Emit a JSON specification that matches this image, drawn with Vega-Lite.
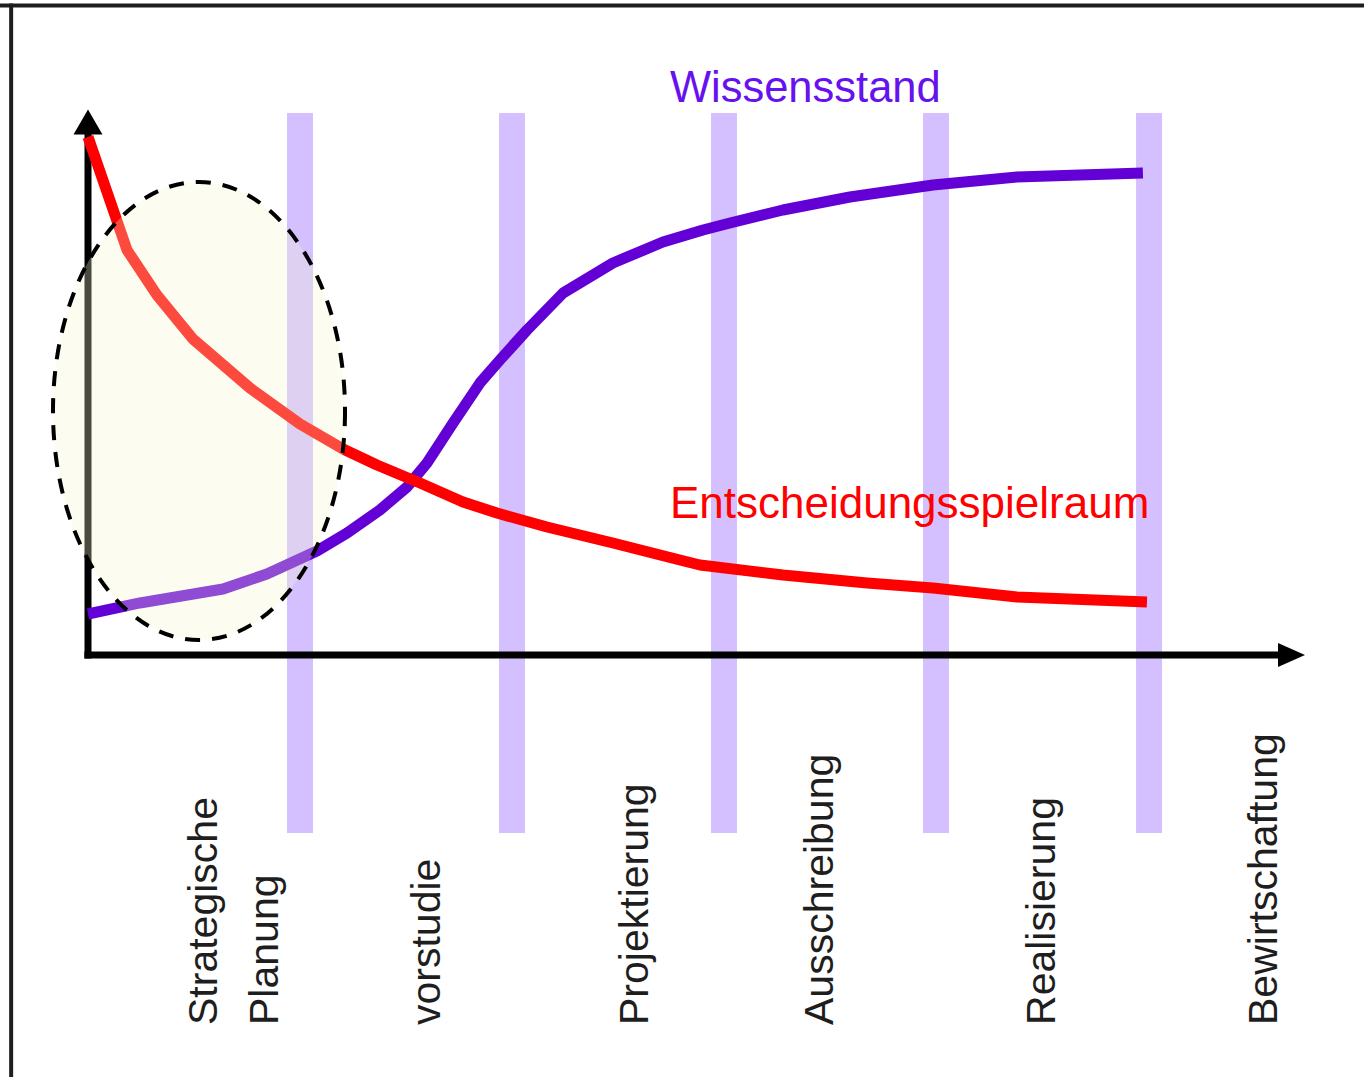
{
  "$schema": "https://vega.github.io/schema/vega-lite/v6.json",
  "width": 1364,
  "height": 1077,
  "padding": 0,
  "autosize": "none",
  "background": "white",
  "config": {"view": {"stroke": null}},
  "data": {"values": [{}]},
  "datasets": {
    "bands": [{"x": 1}, {"x": 2}, {"x": 3}, {"x": 4}, {"x": 5.005}],
    "wissen": [
      {"x": 0, "y": 7.96}, {"x": 0.245, "y": 10.1}, {"x": 0.637, "y": 12.82}, {"x": 0.844, "y": 15.73},
      {"x": 1.08, "y": 20.19}, {"x": 1.222, "y": 23.69}, {"x": 1.377, "y": 28.16}, {"x": 1.505, "y": 32.62},
      {"x": 1.599, "y": 37.28}, {"x": 1.722, "y": 45.05}, {"x": 1.849, "y": 52.82}, {"x": 1.943, "y": 57.28},
      {"x": 2.071, "y": 63.11}, {"x": 2.241, "y": 70.29}, {"x": 2.476, "y": 76.12}, {"x": 2.712, "y": 80.19},
      {"x": 2.901, "y": 82.52}, {"x": 3.028, "y": 83.88}, {"x": 3.278, "y": 86.41}, {"x": 3.594, "y": 88.93},
      {"x": 3.986, "y": 91.26}, {"x": 4.382, "y": 92.82}, {"x": 4.976, "y": 93.59}
    ],
    "entscheid": [
      {"x": 0, "y": 100.6}, {"x": 0.184, "y": 78.64}, {"x": 0.325, "y": 69.9}, {"x": 0.495, "y": 61.36},
      {"x": 0.764, "y": 51.84}, {"x": 1.0, "y": 44.85}, {"x": 1.203, "y": 40.0}, {"x": 1.363, "y": 36.89},
      {"x": 1.566, "y": 33.4}, {"x": 1.769, "y": 29.71}, {"x": 1.929, "y": 27.57}, {"x": 2.165, "y": 24.85},
      {"x": 2.476, "y": 21.75}, {"x": 2.792, "y": 18.45}, {"x": 2.887, "y": 17.48}, {"x": 3.278, "y": 15.53},
      {"x": 3.675, "y": 13.98}, {"x": 3.986, "y": 13.01}, {"x": 4.382, "y": 11.26}, {"x": 4.995, "y": 10.29}
    ],
    "phases": [
      {"label": "Strategische", "x": 0.608, "y": -71.84},
      {"label": "Planung", "x": 0.896, "y": -71.84},
      {"label": "vorstudie", "x": 1.66, "y": -71.84},
      {"label": "Projektierung", "x": 2.642, "y": -71.84},
      {"label": "Ausschreibung", "x": 3.514, "y": -71.84},
      {"label": "Realisierung", "x": 4.561, "y": -71.84},
      {"label": "Bewirtschaftung", "x": 5.608, "y": -71.84}
    ]
  },
  "layer": [
    {
      "mark": {"type": "rule", "stroke": "#1e1e1e", "strokeWidth": 4},
      "encoding": {
        "x": {"datum": -0.415, "type": "quantitative", "scale": {"domain": [-0.41509, 6.01887], "nice": false, "zero": false}, "axis": null},
        "x2": {"datum": 6.02},
        "y": {"datum": 126.1, "type": "quantitative", "scale": {"domain": [-81.942, 127.184], "nice": false, "zero": false}, "axis": null}
      }
    },
    {
      "mark": {"type": "rule", "stroke": "#1e1e1e", "strokeWidth": 4},
      "encoding": {
        "x": {"datum": -0.3625, "type": "quantitative", "scale": {"domain": [-0.41509, 6.01887], "nice": false, "zero": false}, "axis": null},
        "y": {"datum": 126.5, "type": "quantitative", "scale": {"domain": [-81.942, 127.184], "nice": false, "zero": false}, "axis": null},
        "y2": {"datum": -82}
      }
    },
    {
      "data": {"name": "bands"},
      "mark": {"type": "rule", "stroke": "#d4bfff", "strokeWidth": 26, "strokeCap": "butt"},
      "encoding": {
        "x": {"field": "x", "type": "quantitative", "scale": {"domain": [-0.41509, 6.01887], "nice": false, "zero": false}, "axis": null},
        "y": {"datum": 105.24, "type": "quantitative", "scale": {"domain": [-81.942, 127.184], "nice": false, "zero": false}, "axis": null},
        "y2": {"datum": -34.56}
      }
    },
    {
      "mark": {"type": "rule", "stroke": "black", "strokeWidth": 7, "strokeCap": "butt"},
      "encoding": {
        "x": {"datum": 0, "type": "quantitative", "scale": {"domain": [-0.41509, 6.01887], "nice": false, "zero": false}, "axis": null},
        "y": {"datum": -0.68, "type": "quantitative", "scale": {"domain": [-81.942, 127.184], "nice": false, "zero": false}, "axis": null},
        "y2": {"datum": 101.4}
      }
    },
    {
      "mark": {"type": "rule", "stroke": "black", "strokeWidth": 7, "strokeCap": "butt"},
      "encoding": {
        "x": {"datum": -0.017, "type": "quantitative", "scale": {"domain": [-0.41509, 6.01887], "nice": false, "zero": false}, "axis": null},
        "x2": {"datum": 5.623},
        "y": {"datum": 0, "type": "quantitative", "scale": {"domain": [-81.942, 127.184], "nice": false, "zero": false}, "axis": null}
      }
    },
    {
      "mark": {"type": "point", "shape": "M0,-0.86L1,0.86L-1,0.86Z", "size": 841, "filled": true, "fill": "black", "stroke": null, "opacity": 1},
      "encoding": {
        "x": {"datum": 0, "type": "quantitative", "scale": {"domain": [-0.41509, 6.01887], "nice": false, "zero": false}, "axis": null},
        "y": {"datum": 103.5, "type": "quantitative", "scale": {"domain": [-81.942, 127.184], "nice": false, "zero": false}, "axis": null}
      }
    },
    {
      "mark": {"type": "point", "shape": "M-1,-0.89L1,0L-1,0.89Z", "size": 729, "filled": true, "fill": "black", "stroke": null, "opacity": 1},
      "encoding": {
        "x": {"datum": 5.677, "type": "quantitative", "scale": {"domain": [-0.41509, 6.01887], "nice": false, "zero": false}, "axis": null},
        "y": {"datum": 0, "type": "quantitative", "scale": {"domain": [-81.942, 127.184], "nice": false, "zero": false}, "axis": null}
      }
    },
    {
      "data": {"name": "wissen"},
      "mark": {"type": "line", "stroke": "#6300d6", "strokeWidth": 11, "strokeCap": "butt", "strokeJoin": "round"},
      "encoding": {
        "x": {"field": "x", "type": "quantitative", "scale": {"domain": [-0.41509, 6.01887], "nice": false, "zero": false}, "axis": null},
        "y": {"field": "y", "type": "quantitative", "scale": {"domain": [-81.942, 127.184], "nice": false, "zero": false}, "axis": null}
      }
    },
    {
      "data": {"name": "entscheid"},
      "mark": {"type": "line", "stroke": "#ff0000", "strokeWidth": 11, "strokeCap": "butt", "strokeJoin": "round"},
      "encoding": {
        "x": {"field": "x", "type": "quantitative", "scale": {"domain": [-0.41509, 6.01887], "nice": false, "zero": false}, "axis": null},
        "y": {"field": "y", "type": "quantitative", "scale": {"domain": [-81.942, 127.184], "nice": false, "zero": false}, "axis": null}
      }
    },
    {
      "mark": {
        "type": "point",
        "shape": "M0.6376,0C0.6376,0.5523,0.3521,1,0,1C-0.3521,1,-0.6376,0.5523,-0.6376,0C-0.6376,-0.5523,-0.3521,-1,0,-1C0.3521,-1,0.6376,-0.5523,0.6376,0Z",
        "size": 209764,
        "filled": true,
        "fill": "#f5facd",
        "fillOpacity": 0.3,
        "stroke": "black",
        "strokeWidth": 4,
        "strokeOpacity": 1,
        "strokeDash": [15, 12],
        "opacity": 1
      },
      "encoding": {
        "x": {"datum": 0.5236, "type": "quantitative", "scale": {"domain": [-0.41509, 6.01887], "nice": false, "zero": false}, "axis": null},
        "y": {"datum": 47.38, "type": "quantitative", "scale": {"domain": [-81.942, 127.184], "nice": false, "zero": false}, "axis": null}
      }
    },
    {
      "mark": {"type": "text", "text": "Wissensstand", "font": "Liberation Sans", "fontSize": 43.5, "fill": "#6611ee", "align": "left", "baseline": "alphabetic"},
      "encoding": {
        "x": {"datum": 2.745, "type": "quantitative", "scale": {"domain": [-0.41509, 6.01887], "nice": false, "zero": false}, "axis": null},
        "y": {"datum": 107.4, "type": "quantitative", "scale": {"domain": [-81.942, 127.184], "nice": false, "zero": false}, "axis": null}
      }
    },
    {
      "mark": {"type": "text", "text": "Entscheidungsspielraum", "font": "Liberation Sans", "fontSize": 44, "fill": "#ff0000", "align": "left", "baseline": "alphabetic"},
      "encoding": {
        "x": {"datum": 2.745, "type": "quantitative", "scale": {"domain": [-0.41509, 6.01887], "nice": false, "zero": false}, "axis": null},
        "y": {"datum": 26.6, "type": "quantitative", "scale": {"domain": [-81.942, 127.184], "nice": false, "zero": false}, "axis": null}
      }
    },
    {
      "data": {"name": "phases"},
      "mark": {"type": "text", "font": "Liberation Sans", "fontSize": 41, "fill": "#1e1e1e", "align": "left", "baseline": "alphabetic", "angle": 270},
      "encoding": {
        "x": {"field": "x", "type": "quantitative", "scale": {"domain": [-0.41509, 6.01887], "nice": false, "zero": false}, "axis": null},
        "y": {"field": "y", "type": "quantitative", "scale": {"domain": [-81.942, 127.184], "nice": false, "zero": false}, "axis": null},
        "text": {"field": "label", "type": "nominal"}
      }
    }
  ]
}
